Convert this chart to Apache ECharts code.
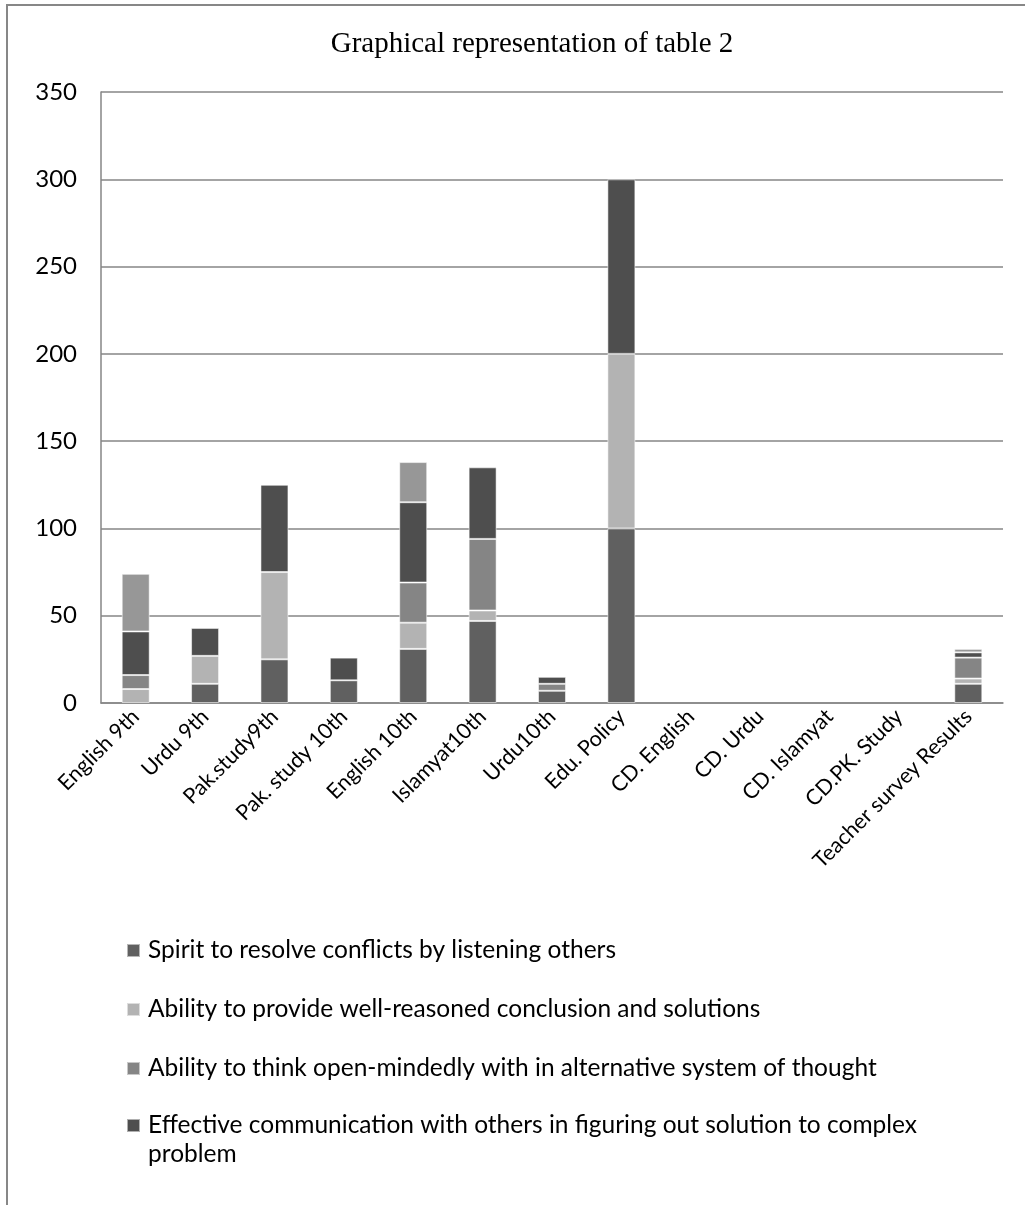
<!DOCTYPE html>
<html>
<head>
<meta charset="utf-8">
<script src="https://cdn.jsdelivr.net/npm/echarts@6/dist/echarts.min.js"></script>
<style>
  html, body { margin: 0; padding: 0; background: #fff; }
  #chart { width: 1025px; height: 1205px; }
</style>
</head>
<body>
<div id="chart"></div>
<script>
// Subjects / sources on the horizontal axis
const categories = ['English 9th', 'Urdu 9th', 'Pak.study9th', 'Pak. study 10th', 'English 10th',
  'Islamyat10th', 'Urdu10th', 'Edu. Policy', 'CD. English', 'CD. Urdu', 'CD. Islamyat',
  'CD.PK. Study', 'Teacher survey Results'];

// Series names
const seriesNames = [
  'Spirit to resolve conflicts by listening others',
  'Ability to provide well-reasoned conclusion and solutions',
  'Ability to think open-mindedly with in alternative system of thought',
  'Effective communication with others in figuring out solution to complex problem',
  'Other'
];

// Counts per category, stacked bottom to top
const spirit        = [0, 11, 25, 13, 31, 47, 7, 100, 0, 0, 0, 0, 11];
const reasoned      = [8, 16, 50, 0, 15, 6, 0, 100, 0, 0, 0, 0, 3];
const openMinded    = [8, 0, 0, 0, 23, 41, 4, 0, 0, 0, 0, 0, 12];
const communication = [25, 16, 50, 13, 46, 41, 4, 100, 0, 0, 0, 0, 3];
const other         = [33, 0, 0, 0, 23, 0, 0, 0, 0, 0, 0, 0, 2];

const yTicks = [0, 50, 100, 150, 200, 250, 300, 350];

const colors = ['#606060', '#b3b3b3', '#858585', '#4e4e4e', '#979797'];
const seriesData = [spirit, reasoned, openMinded, communication, other];

const chart = echarts.init(document.getElementById('chart'));

const font = 'Lato, "Open Sans", sans-serif';

const option = {
  animation: false,
  color: colors,
  title: {
    text: 'Graphical representation of table 2',
    left: 527,
    top: 25,
    textAlign: 'center',
    textStyle: { fontFamily: '"Liberation Serif", "Times New Roman", serif', fontSize: 29, fontWeight: 'normal', color: '#000' }
  },
  graphic: [{
    type: 'rect',
    shape: { x: 7, y: 5, width: 1200, height: 1400 },
    style: { fill: 'none', stroke: '#878787', lineWidth: 2 },
    silent: true
  }],
  legend: [{
    orient: 'vertical',
    left: 121,
    top: 931,
    itemWidth: 13,
    itemHeight: 13,
    itemGap: 30,
    icon: 'rect',
    data: seriesNames.slice(0, 3),
    textStyle: { fontFamily: font, fontSize: 24.5, color: '#000', lineHeight: 29, padding: [0, 0, 0, 3] }
  }, {
    // long entry wraps; a leading blank line keeps the marker beside the first text line
    orient: 'vertical',
    left: 121,
    top: 1077,
    itemWidth: 13,
    itemHeight: 13,
    icon: 'rect',
    data: seriesNames.slice(3, 4),
    formatter: name => '\n' + name,
    textStyle: { fontFamily: font, fontSize: 24.5, color: '#000', lineHeight: 29, width: 830, overflow: 'break', padding: [0, 0, 0, 3] }
  }],
  grid: { left: 101, right: 22, top: 92, bottom: 502, containLabel: false },
  xAxis: {
    type: 'category',
    data: categories,
    axisLine: { lineStyle: { color: '#868686', width: 1.5 } },
    axisTick: { show: false },
    axisLabel: { rotate: 45, interval: 0, margin: 10, fontFamily: font, fontSize: 21.5, color: '#000' }
  },
  yAxis: {
    type: 'value',
    min: yTicks[0],
    max: yTicks[yTicks.length - 1],
    interval: 50,
    axisLine: { show: true, lineStyle: { color: '#868686', width: 1.5 } },
    axisTick: { show: false },
    axisLabel: { margin: 24, fontFamily: font, fontSize: 24, color: '#000' },
    splitLine: { lineStyle: { color: '#868686', width: 1.5 } }
  },
  series: seriesData.map((d, i) => ({
    name: seriesNames[i],
    type: 'bar',
    stack: 'total',
    barWidth: 28,
    // empty segments are skipped so no border sliver is drawn on the axis
    data: d.map(v => (v === 0 ? null : v)),
    itemStyle: { color: colors[i], borderColor: 'rgba(255,255,255,0.55)', borderWidth: 1 }
  }))
};

chart.setOption(option);
</script>
</body>
</html>
